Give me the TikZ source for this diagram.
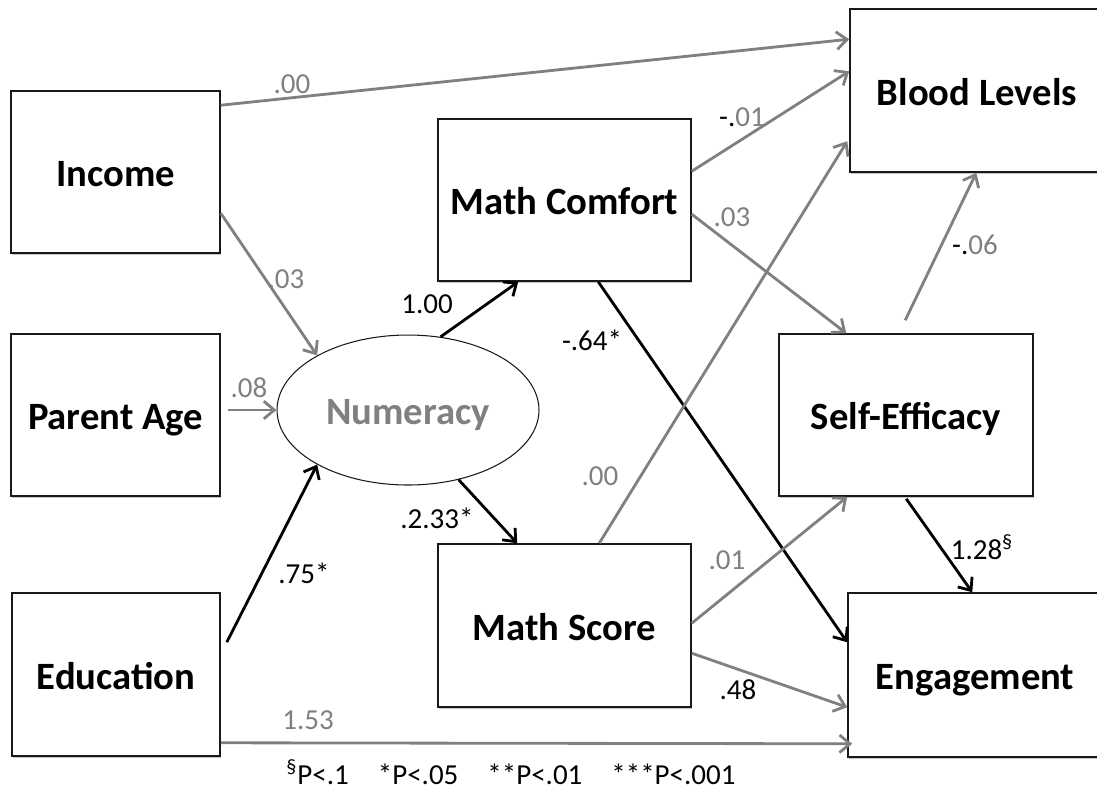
\documentclass[tikz,border=0pt]{standalone}
\usepackage{fontspec}
\setmainfont{Carlito}
\usetikzlibrary{arrows.meta, calc, shapes.geometric, shadows}
\definecolor{pathgray}{RGB}{128, 128, 128}
\definecolor{boxline}{RGB}{25, 25, 25}

\begin{document}
\begin{tikzpicture}[x=0.02cm, y=-0.02cm, >={Straight Barb[length=6pt, width=10pt]},
  box/.style={draw=boxline, line width=0.9pt, fill=white, inner sep=0pt,
    text height=19pt, text depth=2pt,
    font=\fontsize{22}{24}\selectfont\bfseries,
    drop shadow={shadow xshift=0.6pt, shadow yshift=-0.9pt, opacity=0.45}},
  gpath/.style={->, pathgray, line width=1.6pt},
  bpath/.style={->, black, line width=1.6pt},
  glabel/.style={pathgray, font=\fontsize{16.5}{18}\selectfont},
  blabel/.style={black, font=\fontsize{16.5}{18}\selectfont}]

  % Canvas
  \fill[white] (0,0) rectangle (1097,792);
  \useasboundingbox (0,0) rectangle (1097,792);

  % Observed predictors (left column)
  \node[box, minimum width=4.18cm, minimum height=3.24cm] (inc) at (115.5,172) {Income};
  \node[box, minimum width=4.18cm, minimum height=3.24cm] (pa) at (115.5,415) {Parent Age};
  \node[box, minimum width=4.16cm, minimum height=3.26cm] (edu) at (116,674.5) {Education};

  % Latent factor
  \node[ellipse, draw=boxline, line width=0.6pt, fill=white, inner sep=0pt,
    minimum width=5.24cm, minimum height=3cm, text=pathgray,
    text height=19pt, text depth=2pt,
    font=\fontsize{22}{24}\selectfont\bfseries] (num) at (408,410) {Numeracy};

  % Mediators
  \node[box, minimum width=5.06cm, minimum height=3.24cm] (mc) at (564.5,200) {Math Comfort};
  \node[box, minimum width=5.06cm, minimum height=3.26cm] (ms) at (564.5,625.5) {Math Score};
  \node[box, minimum width=5.08cm, minimum height=3.24cm] (se) at (906,415) {Self-Efficacy};

  % Outcomes
  \node[box, minimum width=5.08cm, minimum height=3.26cm] (bl) at (977,90.5) {Blood Levels};
  \node[box, minimum width=5.08cm, minimum height=3.28cm] (eng) at (975,675) {Engagement};

  % Paths into Numeracy
  \draw[gpath] ($(inc.north east)+(0,123)$) -- (num.149);
  \draw[gpath] ($(pa.east)+(7,-5)$) -- (num.west);
  \draw[bpath] ($(edu.north east)+(6,50)$) -- (num.211);

  % Paths out of Numeracy
  \draw[bpath] (num.66) -- ($(mc.south west)+(81,0)$);
  \draw[bpath] (num.-54) -- ($(ms.north west)+(80,0)$);

  % Direct paths from the predictors
  \draw[gpath] ($(inc.north east)+(0,15)$) -- ($(bl.north west)+(0,31)$);
  \draw[gpath] ($(edu.south east)+(0,-14)$) -- ($(eng.south west)+(5,-14)$);

  % Paths from Math Comfort
  \draw[gpath] ($(mc.north east)+(0,53)$) -- ($(bl.north west)+(0,63)$);
  \draw[gpath] ($(mc.north east)+(0,96)$) -- ($(se.north west)+(68,0)$);
  \draw[bpath] ($(mc.south west)+(161,0)$) -- ($(eng.north west)+(0,50)$);

  % Paths from Math Score
  \draw[gpath] ($(ms.north west)+(162,0)$) -- ($(bl.north west)+(-2,133)$);
  \draw[gpath] ($(ms.north east)+(0,80)$) -- ($(se.south west)+(69,0)$);
  \draw[gpath] ($(ms.north east)+(0,110)$) -- ($(eng.north west)+(0,115)$);

  % Paths from Self-Efficacy
  \draw[gpath] ($(se.north west)+(127,-13)$) -- ($(bl.south west)+(127,0)$);
  \draw[bpath] ($(se.south west)+(128,2)$) -- ($(eng.north west)+(125,0)$);

  % Coefficients
  \node[glabel] (cIncBl) at (292,84) {.00};
  \node[glabel] (cIncNum) at (286,279) {.03};
  \node[glabel] (cPaNum) at (249,388) {.08};
  \node[blabel] (cEduNum) at (304,573) {.75*};
  \node[blabel] (cNumMc) at (427,304) {1.00};
  \node[blabel] (cNumMs) at (437,518) {.2.33*};
  \node[glabel] (cMcBl) at (742,117) {{\color{black}-.}01};
  \node[glabel] (cMcSe) at (732,217) {.03};
  \node[blabel] (cMcEng) at (592,340) {-.64*};
  \node[glabel] (cMsBl) at (600,476) {.00};
  \node[glabel] (cMsSe) at (727,560) {.01};
  \node[blabel] (cMsEng) at (738,690) {.48};
  \node[glabel] (cSeBl) at (975,245) {{\color{black}-.}06};
  \node[blabel] (cSeEng) at (982,547) {1.28\textsuperscript{§}};
  \node[glabel] (cEduEng) at (308,720) {1.53};

  % Significance key
  \node[blabel] (key) at (511,772) {\textsuperscript{§}P<.1\hspace{1.0em}*P<.05\hspace{1.0em}**P<.01\hspace{1.0em}***P<.001};

\end{tikzpicture}
\end{document}
